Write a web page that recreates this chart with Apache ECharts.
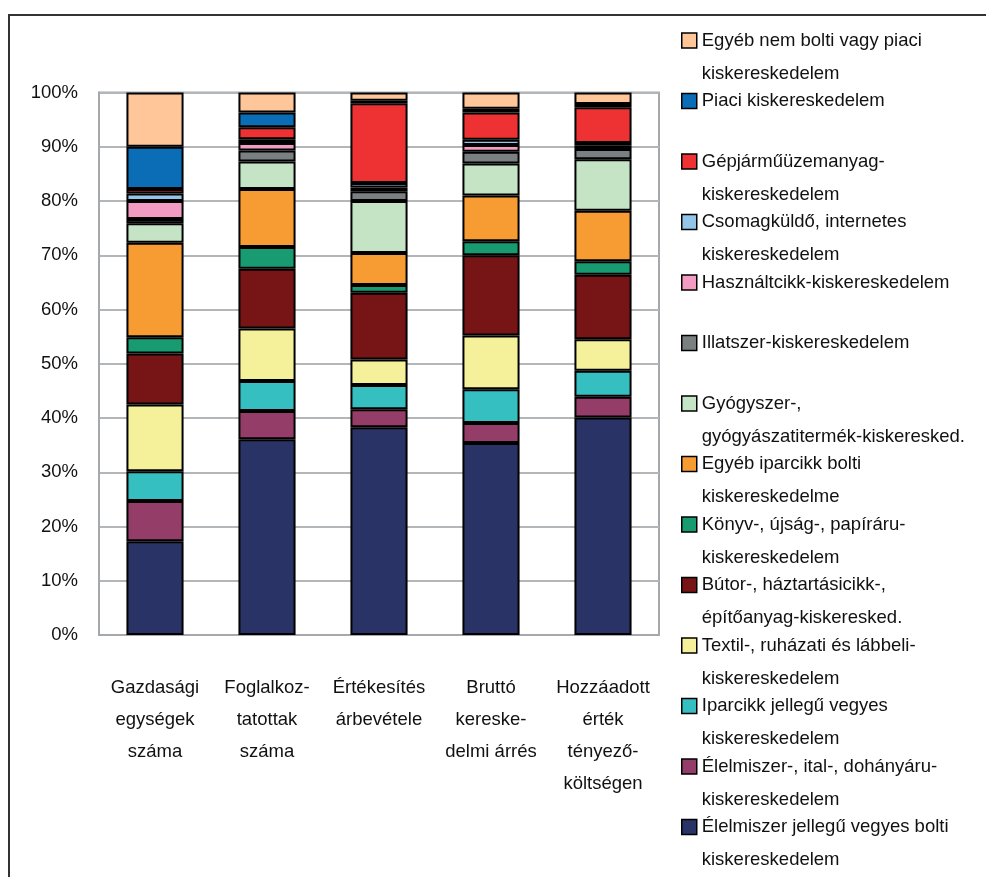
<!DOCTYPE html>
<html>
<head>
    <meta charset="utf-8">
    <title>Kiskereskedelem</title>
    <script src="https://cdn.jsdelivr.net/npm/echarts@6/dist/echarts.min.js"></script>
    <style>
        html, body { margin: 0; padding: 0; background: #fff; }
    </style>
</head>
<body>
    <div id="main" style="width: 986px;height:877px;"></div>
    <script type="text/javascript">
        // categories on the x axis
        var categories = [
            'Gazdasági\negységek\nszáma',
            'Foglalkoz-\ntatottak\nszáma',
            'Értékesítés\nárbevétele',
            'Bruttó\nkereske-\ndelmi árrés',
            'Hozzáadott\nérték\ntényező-\nköltségen'
        ];

        // series, stacked from the bottom up
        var seriesNames = [
            'Élelmiszer jellegű vegyes bolti kiskereskedelem',
            'Élelmiszer-, ital-, dohányáru-kiskereskedelem',
            'Iparcikk jellegű vegyes kiskereskedelem',
            'Textil-, ruházati és lábbeli-kiskereskedelem',
            'Bútor-, háztartásicikk-, építőanyag-kiskeresked.',
            'Könyv-, újság-, papíráru-kiskereskedelem',
            'Egyéb iparcikk bolti kiskereskedelme',
            'Gyógyszer-, gyógyászatitermék-kiskeresked.',
            'Illatszer-kiskereskedelem',
            'Használtcikk-kiskereskedelem',
            'Csomagküldő, internetes kiskereskedelem',
            'Gépjárműüzemanyag-kiskereskedelem',
            'Piaci kiskereskedelem',
            'Egyéb nem bolti vagy piaci kiskereskedelem'
        ];
        var legendLabels = [
            'Élelmiszer jellegű vegyes bolti\nkiskereskedelem',
            'Élelmiszer-, ital-, dohányáru-\nkiskereskedelem',
            'Iparcikk jellegű vegyes\nkiskereskedelem',
            'Textil-, ruházati és lábbeli-\nkiskereskedelem',
            'Bútor-, háztartásicikk-,\népítőanyag-kiskeresked.',
            'Könyv-, újság-, papíráru-\nkiskereskedelem',
            'Egyéb iparcikk bolti\nkiskereskedelme',
            'Gyógyszer-,\ngyógyászatitermék-kiskeresked.',
            'Illatszer-kiskereskedelem\n ',
            'Használtcikk-kiskereskedelem\n ',
            'Csomagküldő, internetes\nkiskereskedelem',
            'Gépjárműüzemanyag-\nkiskereskedelem',
            'Piaci kiskereskedelem\n ',
            'Egyéb nem bolti vagy piaci\nkiskereskedelem'
        ];
        var colors = [
            '#293366', '#943d69', '#35bfc1', '#f5f19b', '#771516', '#189b70', '#f69c32',
            '#c5e4c5', '#7a8081', '#f29bc3', '#93c5e9', '#ee3234', '#0a6db6', '#fec699'
        ];

        // shares in percent, one array per series, in category order
        var elelmiszerVegyes = [17.3, 36.1, 38.3, 35.4, 40.1];
        var elelmiszerItal   = [7.4, 5.2, 3.3, 3.7, 3.8];
        var iparcikkVegyes   = [5.5, 5.5, 4.5, 6.2, 4.8];
        var textil           = [12.3, 9.7, 4.7, 9.9, 5.8];
        var butor            = [9.4, 11.0, 12.3, 14.8, 11.9];
        var konyv            = [3.0, 4.0, 1.4, 2.6, 2.5];
        var egyebIparcikk    = [17.4, 10.7, 5.9, 8.4, 9.3];
        var gyogyszer        = [3.6, 5.1, 9.6, 5.9, 9.5];
        var illatszer        = [0.8, 2.0, 1.8, 2.2, 1.9];
        var hasznaltcikk     = [3.3, 1.4, 0.7, 1.2, 0.6];
        var csomagkuldo      = [1.4, 0.7, 0.8, 1.0, 0.5];
        var gepjarmu         = [0.8, 2.2, 14.7, 5.0, 6.6];
        var piaci            = [7.8, 2.7, 0.5, 0.7, 0.6];
        var egyebNemBolti    = [10.0, 3.7, 1.5, 3.0, 2.1];

        var values = [elelmiszerVegyes, elelmiszerItal, iparcikkVegyes, textil, butor, konyv,
            egyebIparcikk, gyogyszer, illatszer, hasznaltcikk, csomagkuldo, gepjarmu, piaci, egyebNemBolti];

        var yTicks = [0, 10, 20, 30, 40, 50, 60, 70, 80, 90, 100];

        var fontFamily = '"Liberation Sans", Arial, sans-serif';
        var fontSize = 18.5;

        var chartDom = document.getElementById('main');
        var myChart = echarts.init(chartDom);
        var option;

        var labelMap = {};
        seriesNames.forEach(function (n, i) { labelMap[n] = legendLabels[i]; });

        var series = seriesNames.map(function (name, i) {
            return {
                name: name,
                type: 'bar',
                stack: 'total',
                barWidth: '51%',
                data: values[i],
                itemStyle: {
                    color: colors[i],
                    borderColor: '#000',
                    borderWidth: 2
                },
                emphasis: { disabled: true }
            };
        });

        option = {
            animation: false,
            textStyle: { fontFamily: fontFamily },
            graphic: [{
                type: 'rect',
                shape: { x: 9, y: 15, width: 1000, height: 900 },
                style: { fill: 'none', stroke: '#333', lineWidth: 2 },
                silent: true
            }],
            grid: {
                left: 99,
                right: 327,
                top: 92.5,
                bottom: 242,
                show: true,
                borderColor: '#a6a9ac',
                borderWidth: 2
            },
            legend: {
                orient: 'vertical',
                left: 681,
                top: -9,
                height: 1000,
                padding: 0,
                icon: 'rect',
                itemWidth: 15,
                itemHeight: 15,
                itemGap: -38.5,
                data: seriesNames.slice().reverse(),
                formatter: function (name) {
                    return ' \n' + labelMap[name];
                },
                itemStyle: { borderWidth: 1.5 },
                textStyle: {
                    fontFamily: fontFamily,
                    fontSize: fontSize,
                    lineHeight: 33,
                    color: '#111'
                },
                selectedMode: false
            },
            xAxis: {
                type: 'category',
                data: categories,
                axisTick: { show: false },
                axisLine: { lineStyle: { color: '#a6a9ac', width: 2 } },
                axisLabel: {
                    interval: 0,
                    margin: 37,
                    fontFamily: fontFamily,
                    fontSize: fontSize,
                    lineHeight: 32,
                    color: '#111'
                }
            },
            yAxis: {
                type: 'value',
                min: yTicks[0],
                max: yTicks[yTicks.length - 1],
                interval: 10,
                axisLine: { show: true, lineStyle: { color: '#a6a9ac', width: 2 } },
                axisTick: { show: false },
                splitLine: { lineStyle: { color: '#b3b6b9', width: 2 } },
                axisLabel: {
                    formatter: '{value}%',
                    margin: 21,
                    fontFamily: fontFamily,
                    fontSize: fontSize,
                    color: '#111'
                }
            },
            series: series
        };

        option && myChart.setOption(option);
    </script>
</body>
</html>
